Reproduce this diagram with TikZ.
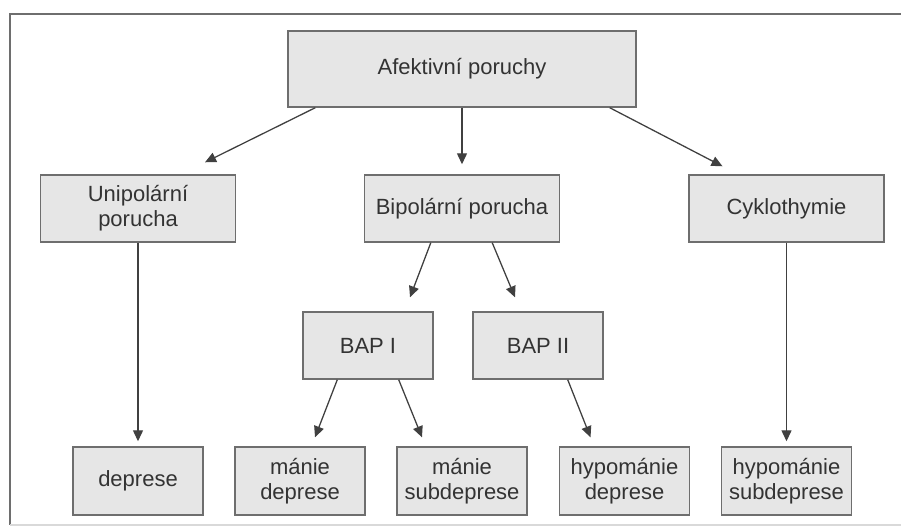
\documentclass[tikz,border=0pt]{standalone}
\usepackage{fontspec}
\setmainfont{Liberation Sans}
\usetikzlibrary{arrows.meta}

\definecolor{boxgray}{HTML}{E6E6E6}
\definecolor{linegray}{HTML}{6E6E6E}
\definecolor{textgray}{HTML}{333333}

\tikzset{
    box/.style={draw=linegray, line width=0.5mm, fill=boxgray, text=textgray,
        align=center, inner sep=0pt, font=\fontsize{22}{25}\selectfont},
    wide/.style={minimum width=195pt, minimum height=67pt},
    narrow/.style={minimum width=130pt, minimum height=67pt},
    arr/.style={->, line width=0.45mm, draw=black!75}
}

\begin{document}
\begin{tikzpicture}[x=1pt,y=-1pt,>={Triangle[length=11pt,width=10pt]}]

        \useasboundingbox (0,0) rectangle (901,527);

        % Frame
        \draw[linegray, line width=0.4mm] (901,14) -- (10,14) -- (10,525);
        \draw[black!15, line width=0.4mm] (10,525) -- (901,525);

        % Top
        \node[box, minimum width=348pt, minimum height=76pt] (afekt) at (462,69) {Afektivní poruchy};

        % Middle row
        \node[box, wide] (unipol) at (138,208.5) {Unipolární\\porucha};
        \node[box, wide] (bipol) at (462,208.5) {Bipolární porucha};
        \node[box, wide] (cyklo) at (786.5,208.5) {Cyklothymie};

        % BAP
        \node[box, narrow] (bapI) at (368,345.5) {BAP I};
        \node[box, narrow] (bapII) at (538,345.5) {BAP II};

        % Bottom row
        \node[box, narrow, minimum height=68pt] (depr) at (138,481) {deprese};
        \node[box, narrow, minimum height=68pt] (manDep) at (300,481) {mánie\\deprese};
        \node[box, narrow, minimum height=68pt] (manSub) at (462,481) {mánie\\subdeprese};
        \node[box, narrow, minimum height=68pt] (hypDep) at (624.5,481) {hypománie\\deprese};
        \node[box, narrow, minimum height=68pt] (hypSub) at (786.5,481) {hypománie\\subdeprese};

        % Arrows from top
        \draw[arr] ([xshift=28pt]afekt.south west) -- ([xshift=67pt,yshift=12pt]unipol.north);
        \draw[arr] (afekt.south) -- ([yshift=10pt]bipol.north);
        \draw[arr] ([xshift=-27pt]afekt.south east) -- ([xshift=-64pt,yshift=8pt]cyklo.north);

        % Arrows down
        \draw[arr] (unipol.south) -- ([yshift=5pt]depr.north);
        \draw[arr] (cyklo.south) -- ([yshift=5pt]hypSub.north);

        \draw[arr] ([xshift=67pt]bipol.south west) -- ([xshift=42pt,yshift=14pt]bapI.north);
        \draw[arr] ([xshift=-68pt]bipol.south east) -- ([xshift=-23pt,yshift=14pt]bapII.north);

        \draw[arr] ([xshift=35pt]bapI.south west) -- ([xshift=15pt,yshift=9pt]manDep.north);
        \draw[arr] ([xshift=-35pt]bapI.south east) -- ([xshift=-40pt,yshift=9pt]manSub.north);
        \draw[arr] ([xshift=-36pt]bapII.south east) -- ([xshift=-34pt,yshift=9pt]hypDep.north);

\end{tikzpicture}
\end{document}
